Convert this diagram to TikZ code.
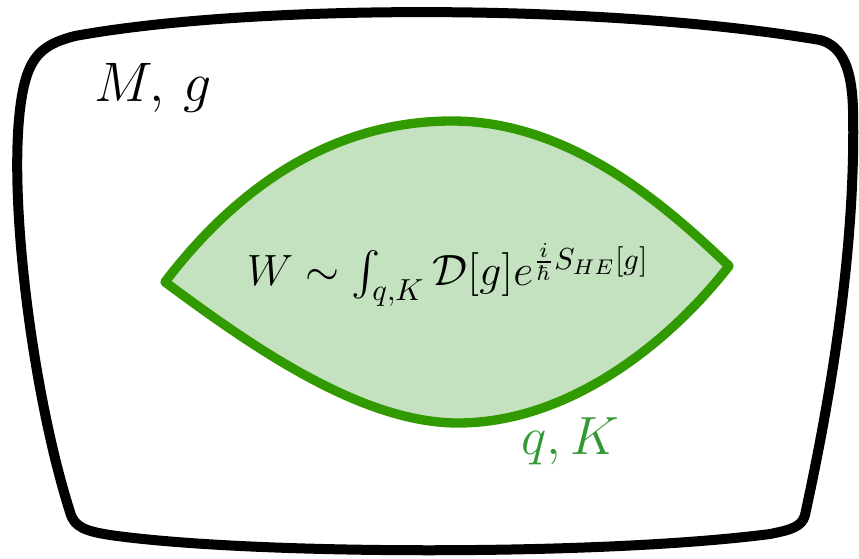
\documentclass[tikz,border=0pt]{standalone}
\usepackage{amsmath}
\definecolor{lensline}{HTML}{319A00}
\definecolor{lensfill}{HTML}{C5E2C0}
\definecolor{labgreen}{HTML}{339933}
\begin{document}
\begin{tikzpicture}[x=0.75pt,y=-0.75pt,
  outer/.style={draw=black,line width=7.5pt,line join=round},
  lens/.style={draw=lensline,fill=lensfill,line width=7pt,line join=round}]
\useasboundingbox (0,0) rectangle (859,559);
% outer manifold
\draw[outer] (75,36) .. controls (250,4) and (600,3) .. (820,40)
  .. controls (843,46) and (852,70) .. (853,110)
  .. controls (856,250) and (830,400) .. (805,515)
  .. controls (802,527) and (790,530) .. (770,534)
  .. controls (600,556) and (250,555) .. (110,535)
  .. controls (85,531) and (74,527) .. (70,512)
  .. controls (28,380) and (2,150) .. (27,75)
  .. controls (35,52) and (48,43) .. (75,36) -- cycle;
% lens
\coordinate (L) at (165,282);
\coordinate (R) at (729,266);
\coordinate (T) at (452,121);
\coordinate (B) at (458,423);
\draw[lens] (L) .. controls (235,190) and (330,121) .. (T)
  .. controls (570,121) and (665,205) .. (R)
  .. controls (665,348) and (565,423) .. (B)
  .. controls (360,423) and (250,345) .. (L) -- cycle;
\node[scale=2.9] (mg) at (153,88) {\Large $M,\,g$};
\node[scale=2.8,text=labgreen] (qk) at (570,441) {\Large $q,K$};
\node[scale=2.28] (w) at (448,275) {\Large $W\sim\int_{q,K}\mathcal{D}[g]e^{\frac{i}{\hbar}S_{HE}[g]}$};
\end{tikzpicture}
\end{document}
